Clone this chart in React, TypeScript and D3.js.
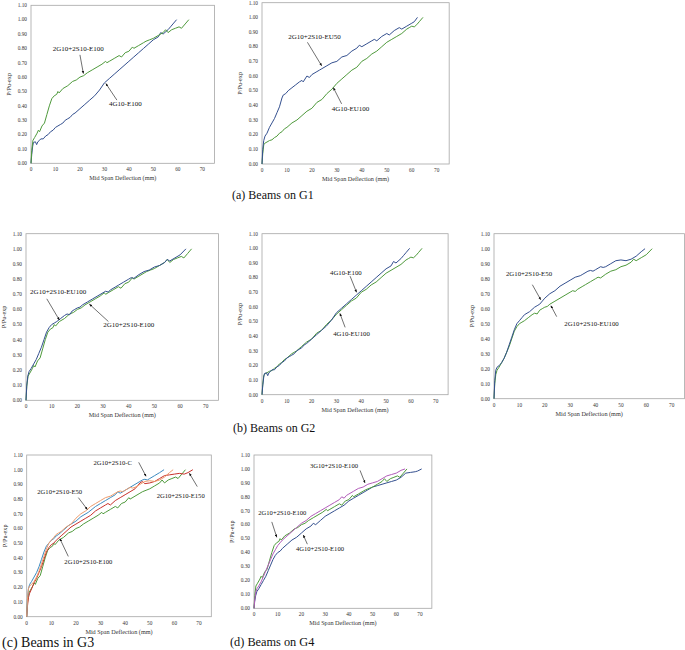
import * as d3 from "d3";

type Pt = [number, number];

// tick labels
const xTicks = [0, 10, 20, 30, 40, 50, 60, 70];
const yTicks = [0, 0.1, 0.2, 0.3, 0.4, 0.5, 0.6, 0.7, 0.8, 0.9, 1.0, 1.1];

// load ratio vs mid span deflection (mm)
const s2G2SE100: Pt[] = [
  [0, 0], [0.3, 0.09], [0.8, 0.16], [1.5, 0.18], [2.5, 0.21], [3, 0.23], [3.5, 0.22], [4.5, 0.26],
  [5.5, 0.28], [6.5, 0.34], [7.5, 0.4], [8.5, 0.45], [9.5, 0.47], [10.5, 0.48], [11, 0.5], [11.5, 0.49],
  [13, 0.52], [15, 0.54], [17, 0.57], [18.5, 0.58], [20, 0.6], [21.5, 0.61], [23, 0.63], [25, 0.65],
  [27, 0.67], [29, 0.69], [30.5, 0.71], [31, 0.7], [32, 0.71], [34, 0.73], [36, 0.75], [37, 0.74],
  [38.5, 0.77], [40, 0.78], [41.5, 0.81], [42, 0.8], [44, 0.82], [46, 0.84], [47, 0.85], [48.5, 0.86],
  [50, 0.87], [52, 0.89], [54, 0.91], [55, 0.93], [56, 0.91], [57.5, 0.93], [59, 0.94], [60.5, 0.95],
  [61.5, 0.94], [63, 0.97], [64.5, 1.0],
];

const s4GE100: Pt[] = [
  [0, 0], [0.3, 0.06], [0.7, 0.12], [1, 0.145], [1.8, 0.15], [2.3, 0.13], [2.8, 0.15], [3.5, 0.16],
  [4, 0.17], [5, 0.17], [6, 0.19], [7, 0.2], [8, 0.22], [9, 0.23], [10, 0.25], [11, 0.26], [12, 0.27],
  [13, 0.28], [14, 0.3], [15, 0.31], [16, 0.32], [17, 0.34], [18, 0.35], [20, 0.38], [22, 0.41],
  [24, 0.44], [26, 0.47], [28, 0.51], [30, 0.56], [32, 0.59], [34, 0.62], [36, 0.65], [38, 0.68],
  [40, 0.71], [42, 0.74], [44, 0.77], [46, 0.8], [48, 0.83], [50, 0.86], [52, 0.88], [53, 0.91],
  [54, 0.9], [56, 0.93], [57, 0.95], [58, 0.97], [59.5, 1.0],
];

const s4GEU100: Pt[] = [
  [0, 0], [0.3, 0.07], [0.7, 0.13], [1, 0.14], [2, 0.15], [3, 0.16], [4, 0.165], [5, 0.18], [6, 0.19],
  [7, 0.21], [8, 0.22], [9, 0.24], [10, 0.25], [12, 0.28], [14, 0.3], [16, 0.33], [18, 0.36], [20, 0.38],
  [22, 0.42], [24, 0.44], [26, 0.48], [28, 0.51], [30, 0.55], [32, 0.58], [34, 0.61], [36, 0.64],
  [38, 0.66], [40, 0.7], [42, 0.72], [44, 0.75], [46, 0.77], [48, 0.8], [50, 0.83], [52, 0.85],
  [54, 0.87], [56, 0.89], [58, 0.92], [59, 0.93], [60, 0.94], [61, 0.935], [62, 0.95], [63, 0.97],
  [64.5, 1.0],
];

const s2G2SEU50: Pt[] = [
  [0, 0], [0.3, 0.1], [0.7, 0.16], [1.2, 0.19], [2, 0.21], [3, 0.25], [4, 0.28], [5, 0.31], [6, 0.35],
  [7, 0.39], [8, 0.45], [8.5, 0.47], [9.5, 0.48], [10.5, 0.5], [12, 0.52], [13.5, 0.54], [15, 0.56],
  [16, 0.57], [16.5, 0.56], [18, 0.6], [19, 0.59], [20, 0.61], [22, 0.63], [23, 0.64], [24, 0.65],
  [26, 0.67], [28, 0.69], [30, 0.7], [32, 0.73], [34, 0.74], [36, 0.77], [38, 0.79], [39, 0.81],
  [40, 0.8], [42, 0.82], [44, 0.84], [45, 0.85], [46, 0.84], [48, 0.87], [50, 0.89], [51, 0.88],
  [53, 0.91], [55, 0.93], [56, 0.92], [58, 0.94], [60, 0.96], [61, 0.97], [62.3, 1.0],
];

const s2G2SEU100: Pt[] = [
  [0, 0], [0.3, 0.1], [0.7, 0.16], [1.2, 0.19], [2, 0.21], [3, 0.24], [4, 0.27], [5, 0.31], [6, 0.35],
  [7, 0.4], [8, 0.45], [9, 0.48], [10, 0.5], [11, 0.51], [12, 0.52], [13.5, 0.54], [15, 0.56],
  [16, 0.57], [17, 0.565], [18, 0.59], [19, 0.6], [20, 0.61], [21, 0.615], [22, 0.63], [24, 0.65],
  [26, 0.67], [28, 0.69], [30, 0.71], [31, 0.72], [32, 0.715], [33, 0.73], [35, 0.75], [36, 0.76],
  [38, 0.78], [40, 0.8], [41, 0.81], [42, 0.805], [44, 0.83], [46, 0.85], [48, 0.86], [50, 0.88],
  [52, 0.89], [54, 0.91], [55, 0.93], [56, 0.92], [58, 0.94], [60, 0.96], [62.3, 1.0],
];

const s2G2SE50: Pt[] = [
  [0, 0], [0.3, 0.12], [0.7, 0.19], [1.2, 0.21], [2, 0.22], [3, 0.24], [4, 0.27], [5, 0.31], [6, 0.36],
  [7, 0.41], [8, 0.46], [9, 0.5], [10, 0.52], [11, 0.54], [12, 0.56], [13, 0.57], [14, 0.58], [16, 0.61],
  [17, 0.62], [18, 0.63], [20, 0.67], [22, 0.7], [24, 0.72], [26, 0.75], [28, 0.77], [30, 0.79],
  [32, 0.81], [34, 0.82], [35, 0.83], [37, 0.85], [38, 0.855], [39, 0.85], [40, 0.86], [41, 0.87],
  [42, 0.88], [43, 0.875], [44, 0.88], [46, 0.9], [48, 0.92], [50, 0.925], [52, 0.92], [54, 0.93],
  [56, 0.95], [58, 0.98], [59.5, 1.0],
];

const s2G2SC: Pt[] = [
  [0, 0], [0.3, 0.12], [0.7, 0.19], [1.2, 0.22], [2, 0.24], [3, 0.27], [4, 0.3], [5, 0.34], [6, 0.39],
  [7, 0.44], [8, 0.48], [9, 0.5], [10, 0.52], [11, 0.53], [12, 0.55], [13, 0.56], [15, 0.59], [17, 0.62],
  [20, 0.65], [22, 0.68], [25, 0.71], [28, 0.75], [30, 0.77], [32, 0.79], [34, 0.81], [36, 0.83],
  [37, 0.85], [38, 0.84], [40, 0.86], [42, 0.88], [44, 0.9], [46, 0.92], [47, 0.93], [48, 0.935],
  [49, 0.93], [50, 0.94], [52, 0.96], [54, 0.98], [55.8, 1.0],
];

const s2G2SE150: Pt[] = [
  [0, 0], [0.3, 0.07], [0.7, 0.13], [1.2, 0.16], [2, 0.19], [3, 0.23], [4, 0.26], [5, 0.3], [6, 0.34],
  [7, 0.39], [8, 0.44], [9, 0.47], [10, 0.49], [11, 0.5], [12, 0.52], [14, 0.55], [16, 0.58], [18, 0.61],
  [20, 0.63], [22, 0.65], [24, 0.67], [26, 0.69], [28, 0.72], [30, 0.74], [32, 0.76], [33, 0.77],
  [34, 0.76], [36, 0.79], [38, 0.81], [40, 0.83], [42, 0.85], [44, 0.87], [45, 0.89], [46, 0.91],
  [47, 0.92], [48, 0.905], [50, 0.91], [52, 0.92], [54, 0.94], [56, 0.96], [58, 0.965], [60, 0.97],
  [62, 0.975], [64, 0.97], [65.5, 0.98], [67.5, 1.0],
];

const s4G2SE100: Pt[] = [
  [0, 0], [0.3, 0.05], [0.7, 0.09], [1.2, 0.12], [2, 0.14], [3, 0.17], [4, 0.2], [5, 0.23], [6, 0.27],
  [7, 0.31], [8, 0.35], [9, 0.38], [10, 0.4], [11, 0.41], [12, 0.43], [14, 0.46], [16, 0.49], [18, 0.51],
  [20, 0.54], [22, 0.57], [24, 0.59], [25, 0.61], [26, 0.6], [28, 0.63], [30, 0.66], [32, 0.68],
  [34, 0.7], [35, 0.71], [36, 0.72], [38, 0.74], [40, 0.77], [42, 0.79], [44, 0.81], [46, 0.83],
  [48, 0.85], [50, 0.87], [52, 0.88], [54, 0.89], [56, 0.9], [58, 0.91], [60, 0.92], [62, 0.94],
  [64, 0.97], [66, 0.975], [68, 0.98], [69, 0.985], [70.7, 1.0],
];

const s3G2SE100: Pt[] = [
  [0, 0], [0.3, 0.06], [0.7, 0.11], [1.2, 0.14], [2, 0.16], [3, 0.19], [4, 0.23], [5, 0.27], [6, 0.31],
  [7, 0.35], [8, 0.39], [9, 0.42], [10, 0.45], [11, 0.47], [12, 0.49], [14, 0.52], [16, 0.55],
  [18, 0.58], [20, 0.61], [22, 0.63], [24, 0.66], [26, 0.68], [28, 0.7], [30, 0.72], [32, 0.74],
  [34, 0.76], [36, 0.78], [37, 0.8], [38, 0.79], [39, 0.81], [40, 0.82], [42, 0.84], [44, 0.86],
  [46, 0.87], [48, 0.89], [50, 0.9], [52, 0.91], [54, 0.93], [56, 0.95], [58, 0.96], [60, 0.97],
  [62, 0.99], [63.7, 1.0],
];

const BLUE = "#34508f";
const GREEN = "#4f9a3c";
const LIGHTBLUE = "#3d8bc0";
const ORANGE = "#ef9c6c";
const RED = "#c8322c";
const PURPLE = "#b25cb9";

const FONT = "'Liberation Serif', 'Times New Roman', serif";

type Note = { text: string; tx: number; ty: number; a: [number, number, number, number] };
type PanelDef = {
  x0: number; x70: number; y0: number; y110: number; noteSize: number;
  series: { data: Pt[]; color: string }[];
  notes: Note[];
};

const panels: PanelDef[] = [
  {
    x0: 31, x70: 202.3, y0: 163.3, y110: 5.3, noteSize: 7,
    series: [{ data: s4GE100, color: BLUE }, { data: s2G2SE100, color: GREEN }],
    notes: [
      { text: "2G10+2S10-E100", tx: 8.9, ty: 0.78, a: [20, 0.755, 21.4, 0.625] },
      { text: "4G10-E100", tx: 31.9, ty: 0.4, a: [35.1, 0.44, 30.6, 0.555] },
    ],
  },
  {
    x0: 262, x70: 436.7, y0: 164, y110: 2.7, noteSize: 7,
    series: [{ data: s4GEU100, color: GREEN }, { data: s2G2SEU50, color: BLUE }],
    notes: [
      { text: "2G10+2S10-EU50", tx: 10.5, ty: 0.85, a: [18.2, 0.83, 23.9, 0.67] },
      { text: "4G10-EU100", tx: 27.9, ty: 0.36, a: [31.9, 0.41, 28.6, 0.52] },
    ],
  },
  {
    x0: 26, x70: 205.7, y0: 400.3, y110: 233.7, noteSize: 7,
    series: [{ data: s2G2SE100, color: GREEN }, { data: s2G2SEU100, color: BLUE }],
    notes: [
      { text: "2G10+2S10-EU100", tx: 1.6, ty: 0.7, a: [8.1, 0.67, 13, 0.53] },
      { text: "2G10+2S10-E100", tx: 30.1, ty: 0.485, a: [32.1, 0.52, 24.7, 0.635] },
    ],
  },
  {
    x0: 262, x70: 435.7, y0: 394.7, y110: 233.7, noteSize: 6.8,
    series: [{ data: s4GEU100, color: GREEN }, { data: s4GE100, color: BLUE }],
    notes: [
      { text: "4G10-E100", tx: 27.4, ty: 0.82, a: [35.5, 0.81, 38.1, 0.7] },
      { text: "4G10-EU100", tx: 28.7, ty: 0.4, a: [33.5, 0.46, 31.4, 0.555] },
    ],
  },
  {
    x0: 494, x70: 671.7, y0: 398.7, y110: 233.7, noteSize: 6.8,
    series: [{ data: s2G2SEU100, color: GREEN }, { data: s2G2SE50, color: BLUE }],
    notes: [
      { text: "2G10+2S10-E50", tx: 4.7, ty: 0.82, a: [15.1, 0.76, 18.4, 0.66] },
      { text: "2G10+2S10-EU100", tx: 27.7, ty: 0.485, a: [24.7, 0.547, 22.4, 0.62] },
    ],
  },
  {
    x0: 26.7, x70: 199, y0: 616.7, y110: 455, noteSize: 6.6,
    series: [
      { data: s2G2SE100, color: GREEN },
      { data: s2G2SE150, color: RED },
      { data: s2G2SC, color: LIGHTBLUE },
      { data: s2G2SE50, color: ORANGE },
    ],
    notes: [
      { text: "2G10+2S10-C", tx: 27.1, ty: 1.03, a: [45.5, 1.05, 48.5, 0.955] },
      { text: "2G10+2S10-E150", tx: 52.8, ty: 0.81, a: [69.3, 0.885, 66.1, 0.975] },
      { text: "2G10+2S10-E50", tx: 4.3, ty: 0.835, a: [21, 0.81, 24.6, 0.73] },
      { text: "2G10+2S10-E100", tx: 15.3, ty: 0.36, a: [16.9, 0.41, 13.5, 0.53] },
    ],
  },
  {
    x0: 254, x70: 420, y0: 608.3, y110: 455, noteSize: 6.6,
    series: [
      { data: s4G2SE100, color: BLUE },
      { data: s2G2SE100, color: GREEN },
      { data: s3G2SE100, color: PURPLE },
    ],
    notes: [
      { text: "3G10+2S10-E100", tx: 23.6, ty: 1.01, a: [44.7, 0.99, 46.8, 0.9] },
      { text: "2G10+2S10-E100", tx: 1.8, ty: 0.67, a: [7.5, 0.62, 9.6, 0.51] },
      { text: "4G10+2S10-E100", tx: 17.7, ty: 0.41, a: [22.5, 0.46, 20.8, 0.525] },
    ],
  },
];

const captions = [
  { text: "(a) Beams on G1", x: 232, y: 199, size: 12 },
  { text: "(b) Beams on G2", x: 233, y: 432, size: 12 },
  { text: "(c) Beams in G3", x: 2, y: 646.5, size: 14 },
  { text: "(d) Beams on G4", x: 230, y: 645.5, size: 12.3 },
];

function Panel({ p }: { p: PanelDef }) {
  const x = d3.scaleLinear().domain([0, 70]).range([p.x0, p.x70]);
  const y = d3.scaleLinear().domain([0, 1.1]).range([p.y0, p.y110]);
  const right = x(75);
  const line = d3
    .line<Pt>()
    .x((d) => x(d[0]))
    .y((d) => y(d[1]));
  const midY = (p.y0 + p.y110) / 2;
  return (
    <g fontFamily={FONT}>
      <rect
        x={p.x0}
        y={p.y110}
        width={right - p.x0}
        height={p.y0 - p.y110}
        fill="none"
        stroke="#a6a6a6"
        strokeWidth={0.8}
      />
      {yTicks.map((t) => (
        <text key={"y" + t} x={p.x0 - 4} y={y(t) + 1.8} fontSize={5.3} textAnchor="end" fill="#333">
          {d3.format(".2f")(t)}
        </text>
      ))}
      {xTicks.map((t) => (
        <text key={"x" + t} x={x(t)} y={p.y0 + 8} fontSize={5.3} textAnchor="middle" fill="#333">
          {t}
        </text>
      ))}
      <text x={(p.x0 + right) / 2} y={p.y0 + 17} fontSize={6.2} textAnchor="middle" fill="#333">
        Mid Span Deflection (mm)
      </text>
      <text
        transform={`translate(${p.x0 - 20},${midY}) rotate(-90)`}
        fontSize={6.2}
        textAnchor="middle"
        fill="#333"
      >
        P/Pu-exp
      </text>
      {p.series.map((s, i) => (
        <path key={i} d={line(s.data) ?? ""} fill="none" stroke={s.color} strokeWidth={1} strokeLinejoin="round" />
      ))}
      {p.notes.map((n, i) => (
        <g key={"n" + i}>
          <text x={x(n.tx)} y={y(n.ty)} fontSize={p.noteSize} fill="#111">
            {n.text}
          </text>
          <line
            x1={x(n.a[0])}
            y1={y(n.a[1])}
            x2={x(n.a[2])}
            y2={y(n.a[3])}
            stroke="#111"
            strokeWidth={0.6}
            markerEnd="url(#arrowHead)"
          />
        </g>
      ))}
    </g>
  );
}

export default function App() {
  return (
    <svg
      width={685}
      height={650}
      viewBox="0 0 685 650"
      style={{ position: "absolute", left: 0, top: 0, background: "#fff" }}
    >
      <defs>
        <marker
          id="arrowHead"
          viewBox="0 0 10 10"
          refX={9}
          refY={5}
          markerWidth={5}
          markerHeight={5}
          markerUnits="strokeWidth"
          orient="auto"
        >
          <path d="M0,1 L10,5 L0,9 Z" fill="#111" />
        </marker>
      </defs>
      <rect width={685} height={650} fill="#fff" />
      {panels.map((p, i) => (
        <Panel key={i} p={p} />
      ))}
      {captions.map((c) => (
        <text key={c.text} x={c.x} y={c.y} fontSize={c.size} fontFamily={FONT} fill="#111">
          {c.text}
        </text>
      ))}
    </svg>
  );
}
